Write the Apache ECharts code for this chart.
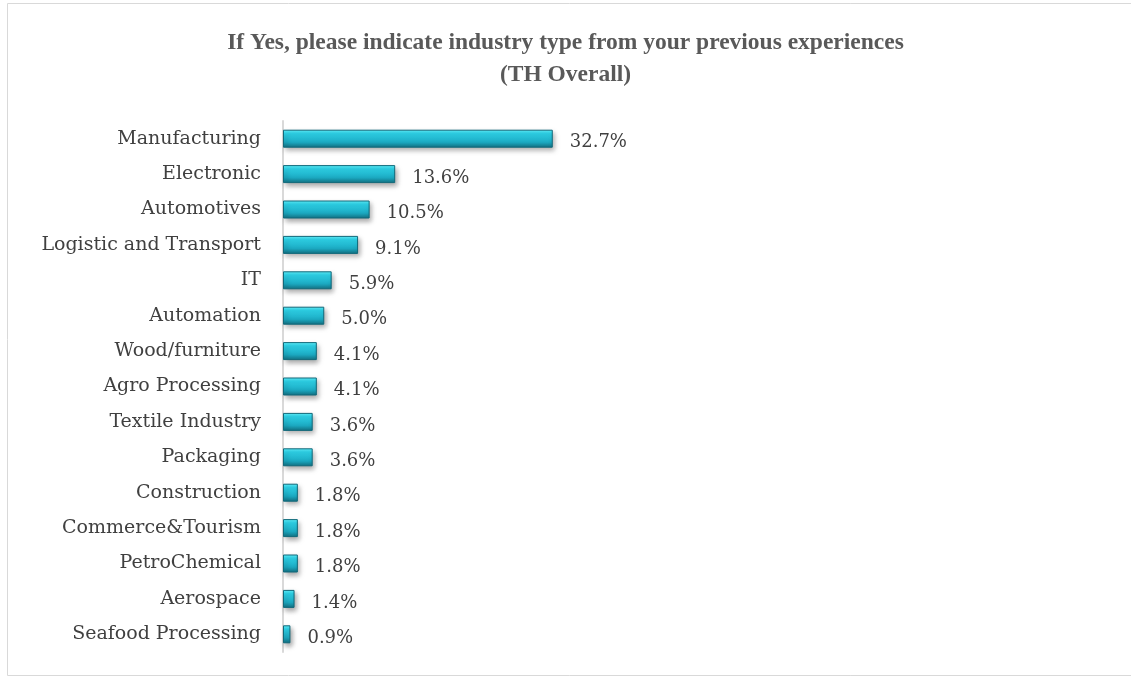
<!DOCTYPE html>
<html>
<head>
<meta charset="utf-8">
<script src="https://cdn.jsdelivr.net/npm/echarts@6/dist/echarts.min.js"></script>
<style>
html, body { margin: 0; padding: 0; background: #fff; }
#chart { width: 1131px; height: 679px; }
</style>
</head>
<body>
<div id="chart"></div>
<script>
var industries = ['Manufacturing', 'Electronic', 'Automotives', 'Logistic and Transport', 'IT',
    'Automation', 'Wood/furniture', 'Agro Processing', 'Textile Industry', 'Packaging',
    'Construction', 'Commerce&Tourism', 'PetroChemical', 'Aerospace', 'Seafood Processing'];
var shares = [32.7, 13.6, 10.5, 9.1, 5.9, 5.0, 4.1, 4.1, 3.6, 3.6, 1.8, 1.8, 1.8, 1.4, 0.9];

var chart = echarts.init(document.getElementById('chart'));
chart.setOption({
    animation: false,
    title: {
        text: 'If Yes, please indicate industry type from your previous experiences\n(TH Overall)',
        left: 'center',
        top: 22,
        textStyle: { fontFamily: 'Liberation Serif', fontWeight: 'bold', fontSize: 23.5, color: '#595959', lineHeight: 32 }
    },
    graphic: [{
        type: 'rect',
        shape: { x: 7.5, y: 3.5, width: 1130, height: 672 },
        style: { fill: 'none', stroke: '#d9d9d9', lineWidth: 1 },
        silent: true
    }],
    grid: { left: 283, top: 121, width: 330, height: 531 },
    xAxis: {
        type: 'value', min: 0, max: 40, show: false
    },
    yAxis: {
        type: 'category',
        data: industries,
        inverse: true,
        axisLine: { show: true, lineStyle: { color: '#d9d9d9', width: 2 } },
        axisTick: { show: false },
        axisLabel: { fontFamily: 'DejaVu Serif', fontSize: 19, color: '#404040', margin: 22 }
    },
    series: [{
        type: 'bar',
        data: shares,
        barWidth: 18,
        itemStyle: {
            color: new echarts.graphic.LinearGradient(0, 0, 0, 1, [
                { offset: 0, color: '#66f4ff' },
                { offset: 0.2, color: '#2fd6ec' },
                { offset: 0.7, color: '#1ba8c0' },
                { offset: 1, color: '#136f80' }
            ]),
            borderColor: '#11697a',
            borderWidth: 1,
            shadowColor: 'rgba(0,0,0,0.35)',
            shadowBlur: 5,
            shadowOffsetX: 2,
            shadowOffsetY: 3
        },
        label: {
            show: true,
            position: 'right',
            distance: 17,
            offset: [0, 4],
            formatter: function (p) { return p.value.toFixed(1) + '%'; },
            fontFamily: 'DejaVu Serif',
            fontSize: 18,
            color: '#404040'
        }
    }]
});
</script>
</body>
</html>
